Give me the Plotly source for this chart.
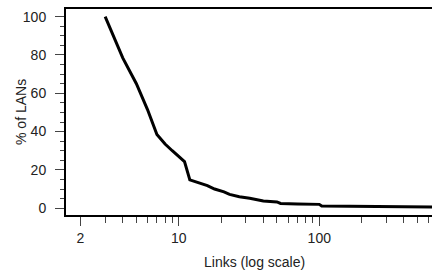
import plotly.graph_objects as go

links = [3, 4, 5, 6, 7, 8, 9, 10, 11, 12, 14, 16, 18, 20, 21, 23, 27, 32, 36, 40, 50, 53, 70, 100, 104, 200, 210, 700]
pct = [100, 78.5, 65, 51.5, 38.5, 33.5, 30, 27, 24.3, 14.8, 13.2, 11.8, 10, 9.1, 8.5, 7.2, 6, 5.2, 4.4, 3.8, 3.3, 2.5, 2.2, 2.0, 1.1, 1.0, 0.7, 0.6]

x_major = [2, 10, 100]
x_major_text = ["2", "10", "100"]
x_minor = [3, 4, 5, 6, 7, 8, 9, 20, 30, 40, 50, 60, 70, 80, 90, 200, 300, 400, 500, 600]
y_major = [0, 20, 40, 60, 80, 100]

FONT = "Liberation Sans, Arial, sans-serif"

fig = go.Figure()
fig.add_trace(go.Scatter(x=links, y=pct, mode="lines",
                         line=dict(color="black", width=3), showlegend=False))

fig.update_layout(
    width=432, height=271,
    margin=dict(l=66, r=0, t=9, b=56),
    paper_bgcolor="white", plot_bgcolor="white",
    font=dict(family=FONT, size=14, color="#222"),
    xaxis=dict(
        type="log", range=[0.1985, 2.8016],
        tickmode="array", tickvals=x_major, ticktext=x_major_text,
        ticks="outside", ticklen=9, tickwidth=1, tickcolor="#444",
        minor=dict(tickmode="array", tickvals=x_minor, ticks="outside",
                   ticklen=6, tickwidth=1, tickcolor="#444", showgrid=False),
        showline=True, linecolor="black", linewidth=2, mirror=True,
        showgrid=False, zeroline=False,
        tickfont=dict(size=14),
    ),
    yaxis=dict(
        range=[-3.55, 104.0],
        tickmode="array", tickvals=y_major,
        ticks="outside", ticklen=9, tickwidth=1, tickcolor="#444",
        minor=dict(dtick=5, tick0=0, ticks="outside", ticklen=4,
                   tickwidth=1, tickcolor="#444", showgrid=False),
        showline=True, linecolor="black", linewidth=2, mirror=False,
        showgrid=False, zeroline=False,
        tickfont=dict(size=14),
        ticklabelstandoff=6,
    ),
    annotations=[
        dict(text="Links (log scale)", xref="paper", yref="paper",
             x=0.5145, y=-0.228, xanchor="center", yanchor="middle",
             showarrow=False, font=dict(size=14, family=FONT, color="#222")),
        dict(text="% of LANs", xref="paper", yref="paper",
             x=-0.123, y=0.5, xanchor="center", yanchor="middle",
             textangle=-90, showarrow=False,
             font=dict(size=14, family=FONT, color="#222")),
    ],
)

fig.write_html(
    "out.html",
    config={"displayModeBar": False},
    post_script="document.body.style.margin='0';document.body.style.overflow='hidden';",
)
